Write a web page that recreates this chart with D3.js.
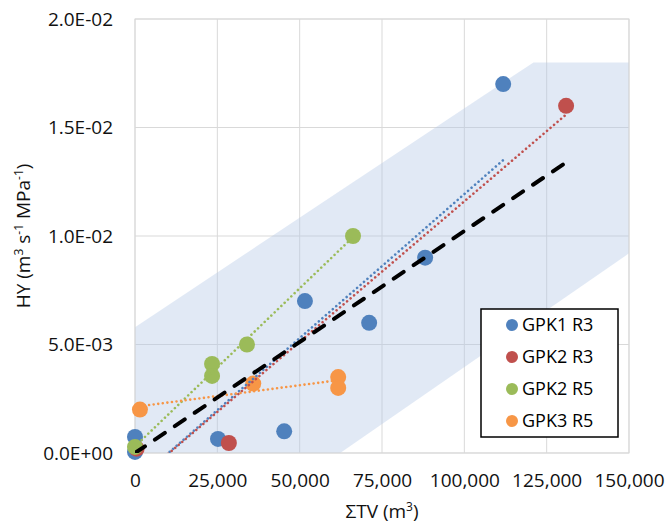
<!DOCTYPE html>
<html>
<head>
<meta charset="utf-8">
<script src="https://cdn.jsdelivr.net/npm/d3@7"></script>
<style>
  body { margin: 0; background: #fff; }
  svg { font-family: "Open Sans", sans-serif; }
</style>
</head>
<body>
<div id="chart"></div>
<script>
// series data (TV in m3, HY in m3 s-1 MPa-1)
var seriesNames = ["GPK1 R3", "GPK2 R3", "GPK2 R5", "GPK3 R5"];
var seriesColors = ["#4f81bd", "#c0504d", "#9bbb59", "#f79646"];

var gpk1r3TV = [111800, 88100, 51600, 71100, 45300, 25200, 0, 0];
var gpk1r3HY = [0.0170, 0.0090, 0.0070, 0.0060, 0.0010, 0.00065, 0.00074, 0.00005];

var gpk2r3TV = [130900, 28500, 500];
var gpk2r3HY = [0.0160, 0.00046, 0.0002];

var gpk2r5TV = [66200, 34000, 23400, 23400, 0];
var gpk2r5HY = [0.0100, 0.0050, 0.0041, 0.00355, 0.00028];

var gpk3r5TV = [1500, 35900, 61700, 61700];
var gpk3r5HY = [0.0020, 0.0032, 0.0035, 0.0030];

// overall dashed line
var fitTV = [0, 131000];
var fitHY = [0, 0.0134];

// shaded band outline
var bandTV = [0, 121000, 150000, 150000, 62300, 0];
var bandHY = [0.0058, 0.0180, 0.0180, 0.0092, 0, 0];

var xTicks = [0, 25000, 50000, 75000, 100000, 125000, 150000];
var yTicks = [0, 0.005, 0.01, 0.015, 0.02];

var allTV = [gpk1r3TV, gpk2r3TV, gpk2r5TV, gpk3r5TV];
var allHY = [gpk1r3HY, gpk2r3HY, gpk2r5HY, gpk3r5HY];

var width = 670, height = 526;
var margin = { top: 19, right: 41, bottom: 73, left: 135 };
var w = width - margin.left - margin.right;
var h = height - margin.top - margin.bottom;

var x = d3.scaleLinear().domain([0, 150000]).range([0, w]);
var y = d3.scaleLinear().domain([0, 0.02]).range([h, 0]);

var svg = d3.select("#chart").append("svg")
    .attr("width", width)
    .attr("height", height);

var canvas = svg.append("g")
    .attr("transform", "translate(" + margin.left + "," + margin.top + ")");

canvas.append("clipPath").attr("id", "plotClip")
  .append("rect").attr("width", w).attr("height", h);

// gridlines
canvas.append("g")
    .selectAll("line.vg").data(xTicks).enter().append("line")
    .attr("x1", d => x(d)).attr("x2", d => x(d))
    .attr("y1", 0).attr("y2", h)
    .attr("stroke", "#d9d9d9").attr("stroke-width", 1);
canvas.append("g")
    .selectAll("line.hg").data(yTicks).enter().append("line")
    .attr("y1", d => y(d)).attr("y2", d => y(d))
    .attr("x1", 0).attr("x2", w)
    .attr("stroke", "#d9d9d9").attr("stroke-width", 1);

// band
var bandPts = bandTV.map((v, i) => [x(v), y(bandHY[i])]);
canvas.append("path")
    .attr("d", d3.line()(bandPts) + "Z")
    .attr("fill", "#b4c7e7")
    .attr("fill-opacity", 0.4);

// markers
var markerLayer = svg.append("g")
    .attr("transform", "translate(" + margin.left + "," + margin.top + ")");

allTV.forEach(function (tv, s) {
    markerLayer.selectAll(".pt" + s)
        .data(tv.map((v, i) => ({ tv: v, hy: allHY[s][i] })))
        .enter().append("circle")
        .attr("cx", d => x(d.tv))
        .attr("cy", d => y(d.hy))
        .attr("r", 8)
        .attr("fill", seriesColors[s]);
});

// linear trendlines (least squares over each series)
function linfit(xs, ys) {
    var mx = d3.mean(xs), my = d3.mean(ys);
    var sxy = 0, sxx = 0;
    xs.forEach(function (v, i) {
        sxy += (v - mx) * (ys[i] - my);
        sxx += (v - mx) * (v - mx);
    });
    var m = sxy / sxx;
    return { m: m, b: my - m * mx };
}

var trendLayer = svg.append("g")
    .attr("transform", "translate(" + margin.left + "," + margin.top + ")")
    .attr("clip-path", "url(#plotClip)");

allTV.forEach(function (tv, s) {
    var f = linfit(tv, allHY[s]);
    var x0 = d3.min(tv), x1 = d3.max(tv);
    trendLayer.append("line")
        .attr("x1", x(x0)).attr("y1", y(f.m * x0 + f.b))
        .attr("x2", x(x1)).attr("y2", y(f.m * x1 + f.b))
        .attr("stroke", seriesColors[s])
        .attr("stroke-width", 2.6)
        .attr("stroke-linecap", "round")
        .attr("stroke-dasharray", "0.01 4.6");
});

trendLayer.append("line")
    .attr("x1", x(fitTV[0])).attr("y1", y(fitHY[0]))
    .attr("x2", x(fitTV[1])).attr("y2", y(fitHY[1]))
    .attr("stroke", "#000")
    .attr("stroke-width", 4)
    .attr("stroke-linecap", "round")
    .attr("stroke-dasharray", "12 12");

// plot border
canvas.append("rect")
    .attr("width", w).attr("height", h)
    .attr("fill", "none")
    .attr("stroke", "#d9d9d9");

// axes
var xAxis = canvas.append("g")
    .attr("transform", "translate(0," + h + ")")
    .call(d3.axisBottom(x).tickValues(xTicks).tickSize(0).tickPadding(21)
        .tickFormat(d3.format(",")));
var yAxis = canvas.append("g")
    .call(d3.axisLeft(y).tickValues(yTicks).tickSize(0).tickPadding(22)
        .tickFormat(d => d === 0 ? "0.0E+00" : d.toExponential(1).replace("e-", "E-0")));

[xAxis, yAxis].forEach(function (a) {
    a.select(".domain").remove();
    a.selectAll("text")
        .style("font-family", "'Open Sans', sans-serif")
        .style("font-size", "19px")
        .attr("fill", "#111");
});

// axis titles
var xt = svg.append("text")
    .attr("x", margin.left + w / 2)
    .attr("y", 518)
    .attr("text-anchor", "middle")
    .style("font-size", "19px")
    .attr("fill", "#111");
xt.append("tspan").text("\u03A3TV (m");
xt.append("tspan").attr("dy", -7).style("font-size", "12px").text("3");
xt.append("tspan").attr("dy", 7).text(")");

var yt = svg.append("text")
    .attr("transform", "translate(30," + (margin.top + h / 2) + ") rotate(-90)")
    .attr("text-anchor", "middle")
    .style("font-size", "19px")
    .attr("fill", "#111");
yt.append("tspan").text("HY (m");
yt.append("tspan").attr("dy", -7).style("font-size", "12px").text("3");
yt.append("tspan").attr("dy", 7).text(" s");
yt.append("tspan").attr("dy", -7).style("font-size", "12px").text("-1");
yt.append("tspan").attr("dy", 7).text(" MPa");
yt.append("tspan").attr("dy", -7).style("font-size", "12px").text("-1");
yt.append("tspan").attr("dy", 7).text(")");

// legend
var legend = svg.append("g").attr("transform", "translate(481,309)");
legend.append("rect")
    .attr("width", 137).attr("height", 128)
    .attr("fill", "#fff")
    .attr("stroke", "#000")
    .attr("stroke-width", 1.5);
var item = legend.selectAll(".item").data(seriesNames).enter().append("g")
    .attr("transform", (d, i) => "translate(0," + (16 + i * 32) + ")");
item.append("circle")
    .attr("cx", 31).attr("cy", 0).attr("r", 6)
    .attr("fill", (d, i) => seriesColors[i]);
item.append("text")
    .attr("x", 41).attr("y", 0)
    .attr("dy", "0.35em")
    .style("font-size", "18px")
    .attr("fill", "#000")
    .text(d => d);
</script>
</body>
</html>
